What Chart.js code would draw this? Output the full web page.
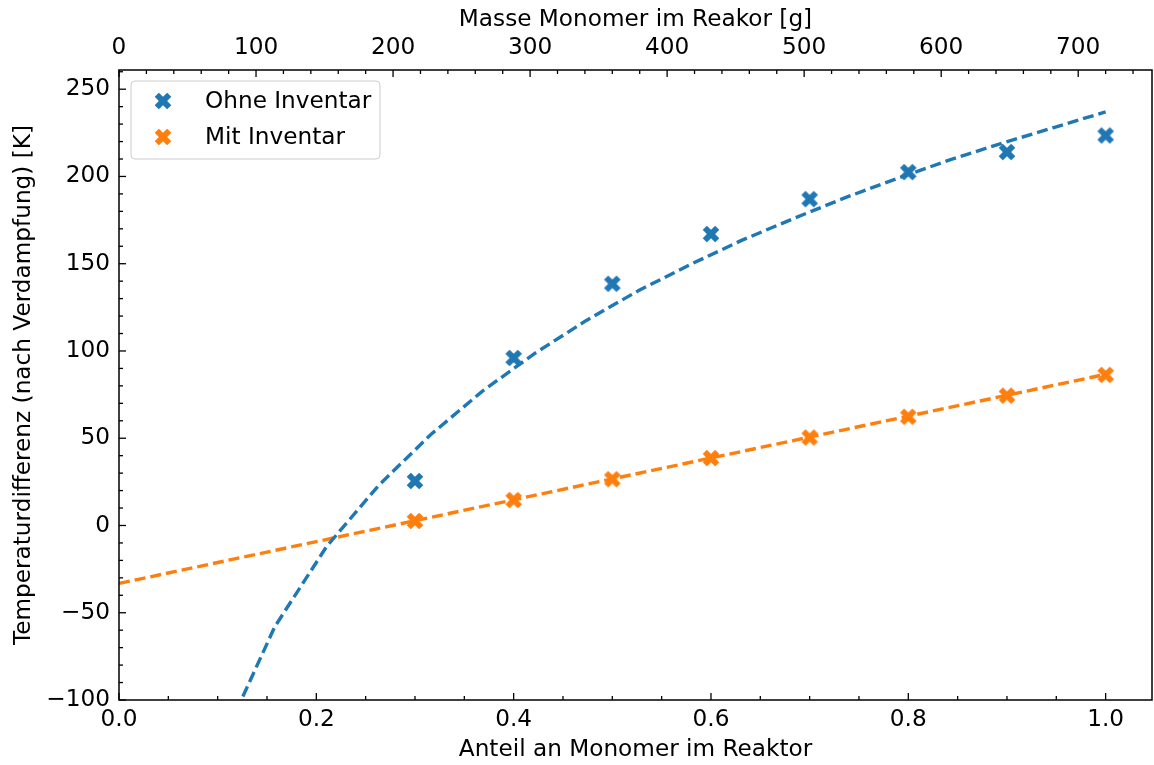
<!DOCTYPE html>
<html>
<head>
<meta charset="utf-8">
<script src="https://cdn.jsdelivr.net/npm/chart.js@4.4.0/dist/chart.umd.min.js"></script>
<style>
  html, body { margin: 0; padding: 0; background: #fff; }
  canvas { display: block; }
</style>
</head>
<body>
<canvas id="chart" width="1154" height="765"></canvas>
<script>
// Measured points: monomer fraction in the reactor vs. temperature difference
const monomerFraction = [0.3, 0.4, 0.5, 0.6, 0.7, 0.8, 0.9, 1.0];
const ohneInventar = [25.5, 96, 138.5, 167, 187, 202.5, 214, 223.5];
const mitInventar = [2.6, 14.6, 26.5, 38.6, 50.4, 62.3, 74.4, 86.3];

// Fit curves (sampled)
const fitOhneX = [0.1053, 0.1579, 0.2105, 0.2632, 0.3158, 0.3684, 0.4211, 0.4737, 0.5263,
                  0.5789, 0.6316, 0.6842, 0.7368, 0.7895, 0.8421, 0.8947, 0.9474, 1.0];
const fitOhneY = [-123, -58, -12, 23, 52, 77, 98.5, 117.5, 134.5,
                  149.5, 163.5, 176, 188, 199, 209.5, 219, 228, 237];
const fitMitX = [0.0, 1.0];
const fitMitY = [-33.2, 86.6];

// Axis ticks and ranges
const fractionTicks = [0.0, 0.2, 0.4, 0.6, 0.8, 1.0];
const tempTicks = [-100, -50, 0, 50, 100, 150, 200, 250];
const massTicks = [0, 100, 200, 300, 400, 500, 600, 700];
const massAtFullFraction = 720;   // g of monomer when the fraction is 1.0
const fractionRange = [0, 1.047];
const tempRange = [-100, 261];

const BLUE = '#1f77b4';
const ORANGE = '#ff7f0e';
const FONT = "'DejaVu Sans', sans-serif";
const FS = 23.2;

function toXY(xs, ys) { return xs.map((x, i) => ({ x: x, y: ys[i] })); }
function minus(v) { return String(v).replace('-', '\u2212'); }

// Filled "X" marker
function makeXMarker(color) {
  const size = 22;
  const c = document.createElement('canvas');
  c.width = size; c.height = size;
  const g = c.getContext('2d');
  g.translate(size / 2, size / 2);
  g.rotate(Math.PI / 4);
  const u = 17.6 / 6;
  const pts = [[-1,-3],[1,-3],[1,-1],[3,-1],[3,1],[1,1],[1,3],[-1,3],[-1,1],[-3,1],[-3,-1],[-1,-1]];
  g.beginPath();
  pts.forEach(([x, y], i) => i ? g.lineTo(x * u, y * u) : g.moveTo(x * u, y * u));
  g.closePath();
  g.fillStyle = color;
  g.fill();
  return c;
}
const markerBlue = makeXMarker(BLUE);
const markerOrange = makeXMarker(ORANGE);

// Fixed axis box sizes, without the extra edge padding for tick labels
function fixSize(prop, size) {
  return s => {
    s[prop] = size;
    s.paddingLeft = 0; s.paddingRight = 0; s.paddingTop = 0; s.paddingBottom = 0;
  };
}

// Frame, inward major/minor ticks and the legend box
const framePlugin = {
  id: 'frame',
  afterDraw(chart) {
    const { ctx, chartArea: a, scales } = chart;
    ctx.save();
    ctx.strokeStyle = '#000';
    ctx.lineWidth = 1.3;
    const tick = (x1, y1, x2, y2) => { ctx.beginPath(); ctx.moveTo(x1, y1); ctx.lineTo(x2, y2); ctx.stroke(); };
    const near = (v, s) => Math.abs(v / s - Math.round(v / s)) < 1e-6;

    // bottom axis
    for (let i = 0; i * 0.05 <= fractionRange[1] + 1e-9; i++) {
      const v = i * 0.05;
      const px = scales.x.getPixelForValue(v);
      const len = near(v, 0.2) ? 7 : 4;
      tick(px, a.bottom, px, a.bottom - len);
    }
    // top axis
    for (let v = 0; v <= scales.x2.max + 1e-9; v += 20) {
      const px = scales.x2.getPixelForValue(v);
      const len = near(v, 100) ? 7 : 4;
      tick(px, a.top, px, a.top + len);
    }
    // left axis
    for (let v = tempRange[0]; v <= tempRange[1] + 1e-9; v += 10) {
      const py = scales.y.getPixelForValue(v);
      const len = near(v, 50) ? 7 : 4;
      tick(a.left, py, a.left + len, py);
    }
    // spines
    ctx.lineWidth = 1.5;
    ctx.strokeRect(a.left, a.top, a.right - a.left, a.bottom - a.top);

    // legend
    const lx = a.left + 12, ly = a.top + 11, lw = 249, lh = 78, r = 4;
    ctx.beginPath();
    ctx.moveTo(lx + r, ly);
    ctx.arcTo(lx + lw, ly, lx + lw, ly + lh, r);
    ctx.arcTo(lx + lw, ly + lh, lx, ly + lh, r);
    ctx.arcTo(lx, ly + lh, lx, ly, r);
    ctx.arcTo(lx, ly, lx + lw, ly, r);
    ctx.closePath();
    ctx.fillStyle = 'rgba(255,255,255,0.8)';
    ctx.fill();
    ctx.strokeStyle = '#cccccc';
    ctx.lineWidth = 1;
    ctx.stroke();

    const entries = [
      { label: chart.data.datasets[0].label, img: markerBlue, y: ly + 20 },
      { label: chart.data.datasets[1].label, img: markerOrange, y: ly + 56 }
    ];
    ctx.font = FS + 'px ' + FONT;
    ctx.fillStyle = '#000';
    ctx.textBaseline = 'middle';
    ctx.textAlign = 'left';
    entries.forEach(e => {
      ctx.drawImage(e.img, lx + 32 - e.img.width / 2, e.y - e.img.height / 2);
      ctx.fillText(e.label, lx + 74, e.y + 1);
    });
    ctx.restore();
  }
};

Chart.defaults.font.family = FONT;
Chart.defaults.font.size = FS;
Chart.defaults.color = '#000';

new Chart(document.getElementById('chart'), {
  type: 'scatter',
  data: {
    datasets: [
      {
        label: 'Ohne Inventar',
        data: toXY(monomerFraction, ohneInventar),
        pointStyle: markerBlue,
        backgroundColor: BLUE,
        borderColor: BLUE
      },
      {
        label: 'Mit Inventar',
        data: toXY(monomerFraction, mitInventar),
        pointStyle: markerOrange,
        backgroundColor: ORANGE,
        borderColor: ORANGE
      },
      {
        label: 'Fit ohne Inventar',
        type: 'line',
        data: toXY(fitOhneX, fitOhneY),
        borderColor: BLUE,
        borderWidth: 3.4,
        borderDash: [11, 5],
        pointRadius: 0,
        fill: false,
        tension: 0
      },
      {
        label: 'Fit mit Inventar',
        type: 'line',
        data: toXY(fitMitX, fitMitY),
        borderColor: ORANGE,
        borderWidth: 3.4,
        borderDash: [11, 5],
        pointRadius: 0,
        fill: false,
        tension: 0
      }
    ]
  },
  options: {
    responsive: false,
    animation: false,
    layout: { autoPadding: false, padding: { left: 0, right: 2, top: 0, bottom: 0 } },
    plugins: {
      legend: { display: false },
      tooltip: { enabled: false }
    },
    scales: {
      x: {
        type: 'linear',
        position: 'bottom',
        min: fractionRange[0],
        max: fractionRange[1],
        afterFit: fixSize('height', 65),
        afterBuildTicks(s) { s.ticks = fractionTicks.map(v => ({ value: v })); },
        grid: { display: false, drawTicks: false },
        border: { display: false },
        ticks: { padding: 6, maxRotation: 0, autoSkip: false, callback: v => v.toFixed(1) },
        title: { display: true, text: 'Anteil an Monomer im Reaktor', padding: { top: 0, bottom: 1 } }
      },
      x2: {
        type: 'linear',
        position: 'top',
        min: fractionRange[0] * massAtFullFraction,
        max: fractionRange[1] * massAtFullFraction,
        afterFit: fixSize('height', 70),
        afterBuildTicks(s) { s.ticks = massTicks.map(v => ({ value: v })); },
        grid: { display: false, drawTicks: false },
        border: { display: false },
        ticks: { padding: 8, maxRotation: 0, autoSkip: false, callback: v => String(v) },
        title: { display: true, text: 'Masse Monomer im Reakor [g]', padding: { top: 6, bottom: 0 } }
      },
      y: {
        type: 'linear',
        position: 'left',
        min: tempRange[0],
        max: tempRange[1],
        afterFit: fixSize('width', 119),
        afterBuildTicks(s) { s.ticks = tempTicks.map(v => ({ value: v })); },
        grid: { display: false, drawTicks: false },
        border: { display: false },
        ticks: { padding: 9, autoSkip: false, callback: v => minus(v) },
        title: { display: true, text: 'Temperaturdifferenz (nach Verdampfung) [K]', padding: { top: 10, bottom: 0 } }
      }
    }
  },
  plugins: [framePlugin]
});
</script>
</body>
</html>
